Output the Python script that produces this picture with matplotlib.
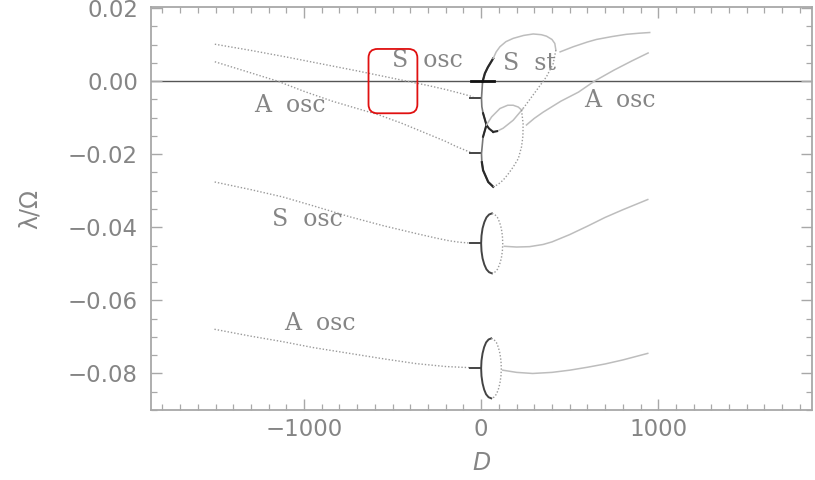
import matplotlib
matplotlib.use("Agg")
import matplotlib.pyplot as plt
from matplotlib.patches import FancyBboxPatch
from matplotlib.ticker import MultipleLocator

# ---------------- data: eigenvalue branches lambda/Omega versus D ----------------
# left-hand branches (D < 0), dotted
s_osc_up_D = [-1504, -1300, -1100, -900, -700, -500, -421, -300, -200, -120, -45]
s_osc_up_L = [0.0101, 0.0084, 0.0066, 0.0047, 0.0028, 0.0008, 0.0, -0.0012, -0.0023, -0.0033, -0.0043]

a_osc_up_D = [-1504, -1350, -1150, -1000, -840, -700, -580, -450, -300, -200, -145, -60]
a_osc_up_L = [0.0053, 0.0030, 0.0, -0.0028, -0.0055, -0.0075, -0.0092, -0.0115, -0.0145, -0.0165, -0.0178, -0.0195]

s_osc_mid_D = [-1505, -1300, -1120, -950, -744, -550, -368, -250, -179, -120, -66]
s_osc_mid_L = [-0.0276, -0.0297, -0.0317, -0.0341, -0.0371, -0.0396, -0.0417, -0.0430, -0.0437, -0.0441, -0.0443]

a_osc_low_D = [-1506, -1300, -1120, -950, -744, -550, -368, -200, -66]
a_osc_low_L = [-0.0679, -0.0698, -0.0713, -0.0729, -0.0745, -0.0760, -0.0773, -0.0781, -0.0784]

# short dark stubs where the dotted branches meet D = 0
stub_D = [-62, 0]
stub_L = [-0.0047, -0.0198, -0.0443, -0.0784]
zero_stub_D = [-55, 75]

# upper cluster near D = 0
arc_left_D = [68, 38, 21, 8, 2, 4, 11, 30, 11, 2, 4, 11, 40, 68]
arc_left_L = [0.0062, 0.0038, 0.0021, -0.0002, -0.0047, -0.0070, -0.0088, -0.0120,
              -0.0152, -0.0198, -0.0222, -0.0244, -0.0276, -0.0289]

loop_top_D = [68, 85, 106, 140, 181, 240, 294, 340, 369, 400, 416, 422]
loop_top_L = [0.0062, 0.0080, 0.0094, 0.0108, 0.0117, 0.0125, 0.0129, 0.0127, 0.0123, 0.0114, 0.0103, 0.0085]

loop_side_D = [422, 407, 369, 313, 237]
loop_side_L = [0.0085, 0.0048, 0.0012, -0.0025, -0.0075]

loop_arm_D = [237, 181, 124, 90, 68]
loop_arm_L = [-0.0075, -0.0107, -0.0129, -0.0137, -0.0139]

x_arm_D = [68, 45, 30]
x_arm_L = [-0.0139, -0.0130, -0.0120]

small_top_D = [30, 59, 106, 150, 181, 210, 228]
small_top_L = [-0.0120, -0.0098, -0.0075, -0.0066, -0.0066, -0.0071, -0.0079]

small_side_D = [228, 237, 236, 228, 210, 181, 150, 124, 95, 68]
small_side_L = [-0.0079, -0.0116, -0.0150, -0.0180, -0.0212, -0.0235, -0.0256, -0.0271, -0.0283, -0.0289]

# right-hand branches (D > 0), solid
s_st_D = [446, 520, 600, 651, 740, 819, 890, 952]
s_st_L = [0.0080, 0.0094, 0.0107, 0.0114, 0.0122, 0.0128, 0.0131, 0.0133]

a_osc_right_D = [256, 300, 350, 450, 550, 640, 750, 850, 943]
a_osc_right_L = [-0.0120, -0.0102, -0.0085, -0.0055, -0.0030, 0.0, 0.0030, 0.0055, 0.0077]

s_osc_right_D = [131, 200, 273, 350, 400, 500, 600, 700, 800, 941]
s_osc_right_L = [-0.0452, -0.0454, -0.0453, -0.0447, -0.0440, -0.0420, -0.0397, -0.0373, -0.0352, -0.0324]

a_osc_right_low_D = [122, 200, 291, 400, 500, 600, 700, 800, 941]
a_osc_right_low_L = [-0.0791, -0.0797, -0.0800, -0.0797, -0.0791, -0.0783, -0.0774, -0.0763, -0.0745]

# complex-pair loops around D ~ 60 (left halves solid, right halves dotted)
ell_mid_left_D = [61, 45, 30, 18, 8, 2, 0, 2, 8, 18, 30, 45, 61]
ell_mid_right_D = [61, 77, 92, 104, 114, 120, 122, 120, 114, 104, 92, 77, 61]
ell_mid_L = [-0.0362, -0.0365, -0.0373, -0.0386, -0.0403, -0.0423, -0.0444,
             -0.0465, -0.0485, -0.0502, -0.0515, -0.0523, -0.0526]

ell_low_left_D = [57, 42, 28, 17, 8, 2, 0, 2, 8, 17, 28, 42, 57]
ell_low_right_D = [57, 72, 86, 97, 106, 112, 114, 112, 106, 97, 86, 72, 57]
ell_low_L = [-0.0704, -0.0707, -0.0715, -0.0728, -0.0745, -0.0765, -0.0786,
             -0.0807, -0.0827, -0.0844, -0.0857, -0.0865, -0.0868]

# labels
label_text = ["S  osc", "S  st", "A  osc", "A  osc", "S  osc", "A  osc"]
label_D = [-303, 273, -1082, 781, -980, -912]
label_L = [0.0057, 0.0049, -0.0066, -0.0052, -0.0380, -0.0662]

# highlighted window
box_D = [-636, -360]
box_L = [-0.0088, 0.0088]

x_major = [-1000, 0, 1000]
x_major_labels = ["\u22121000", "0", "1000"]
y_major = [0.02, 0.0, -0.02, -0.04, -0.06, -0.08]
y_major_labels = ["0.02", "0.00", "\u22120.02", "\u22120.04", "\u22120.06", "\u22120.08"]

# ---------------- drawing ----------------
DOT = (0, (1.0, 1.4))
c_dot = "#9a9a9a"
c_light = "#bdbdbd"
c_dark = "#2a2a2a"
c_text = "#858585"

fig = plt.figure(figsize=(8.15, 4.8), dpi=100)
ax = fig.add_axes([0.1847, 0.1458, 0.8113, 0.8390])
ax.set_xlim(-1867, 1867)
ax.set_ylim(-0.0900, 0.0202)

# zero line
ax.axhline(0.0, color="#555555", lw=1.0, zorder=1)
ax.plot(zero_stub_D, [0.0, 0.0], color="#111111", lw=2.0, zorder=3)

# left dotted branches
for d, l in [(s_osc_up_D, s_osc_up_L), (a_osc_up_D, a_osc_up_L),
             (s_osc_mid_D, s_osc_mid_L), (a_osc_low_D, a_osc_low_L)]:
    ax.plot(d, l, color=c_dot, lw=1.0, ls=DOT)
for lv in stub_L:
    ax.plot(stub_D, [lv, lv], color="#444444", lw=1.4)

# upper cluster
ax.plot(arc_left_D, arc_left_L, color="#777777", lw=1.2)
ax.plot(arc_left_D[:4], arc_left_L[:4], color=c_dark, lw=1.6)
ax.plot(arc_left_D[6:9], arc_left_L[6:9], color=c_dark, lw=1.5)
ax.plot(arc_left_D[10:], arc_left_L[10:], color=c_dark, lw=1.6)
ax.plot(loop_top_D, loop_top_L, color=c_light, lw=1.1)
ax.plot(loop_side_D, loop_side_L, color=c_dot, lw=1.0, ls=DOT)
ax.plot(loop_arm_D, loop_arm_L, color=c_light, lw=1.1)
ax.plot(x_arm_D, x_arm_L, color=c_dark, lw=1.5)
ax.plot(loop_arm_D[-2:], loop_arm_L[-2:], color=c_dark, lw=1.5)
ax.plot(small_top_D, small_top_L, color=c_light, lw=1.1)
ax.plot(small_side_D, small_side_L, color=c_dot, lw=1.0, ls=DOT)

# right branches
for d, l in [(s_st_D, s_st_L), (a_osc_right_D, a_osc_right_L),
             (s_osc_right_D, s_osc_right_L), (a_osc_right_low_D, a_osc_right_low_L)]:
    ax.plot(d, l, color=c_light, lw=1.1)

# loops around D ~ 60
ax.plot(ell_mid_left_D, ell_mid_L, color="#444444", lw=1.4)
ax.plot(ell_mid_right_D, ell_mid_L, color=c_dot, lw=1.0, ls=DOT)
ax.plot(ell_low_left_D, ell_low_L, color="#444444", lw=1.4)
ax.plot(ell_low_right_D, ell_low_L, color=c_dot, lw=1.0, ls=DOT)

# labels
for t, d, l in zip(label_text, label_D, label_L):
    ax.text(d, l, t, ha="center", va="center", fontsize=17, color=c_text,
            family="DejaVu Serif")

# highlighted window (rounded, radius equal in pixels along both axes)
ax_w_px = 0.8113 * 815
ax_h_px = 0.8390 * 480
x_per_px = (1867 * 2) / ax_w_px
y_per_px = (0.0202 + 0.0900) / ax_h_px
box = FancyBboxPatch((box_D[0], box_L[0]), box_D[1] - box_D[0], box_L[1] - box_L[0],
                     boxstyle="round,pad=0,rounding_size=%f" % (9 * x_per_px),
                     mutation_aspect=y_per_px / x_per_px,
                     fill=False, edgecolor="#e01010", lw=1.3, zorder=5)
ax.add_patch(box)

# axes styling
for s in ax.spines.values():
    s.set_color("#a8a8a8")
    s.set_linewidth(1.3)
ax.set_xticks(x_major)
ax.set_xticklabels(x_major_labels)
ax.set_yticks(y_major)
ax.set_yticklabels(y_major_labels)
ax.xaxis.set_minor_locator(MultipleLocator(100))
ax.yaxis.set_minor_locator(MultipleLocator(0.005))
ax.tick_params(which="both", direction="in", top=True, right=True, color="#a8a8a8",
               labelcolor="#858585", labelsize=16.5)
ax.tick_params(which="major", length=8, width=1.0)
ax.tick_params(which="minor", length=4, width=0.9)
ax.tick_params(axis="x", pad=6)
ax.tick_params(axis="y", pad=9)

ax.set_xlabel("D", fontsize=17, color="#858585", style="italic", labelpad=7)
ax.set_ylabel("\u03bb/\u03a9", fontsize=17, color="#858585", labelpad=19)

fig.savefig("out.png", dpi=100)
